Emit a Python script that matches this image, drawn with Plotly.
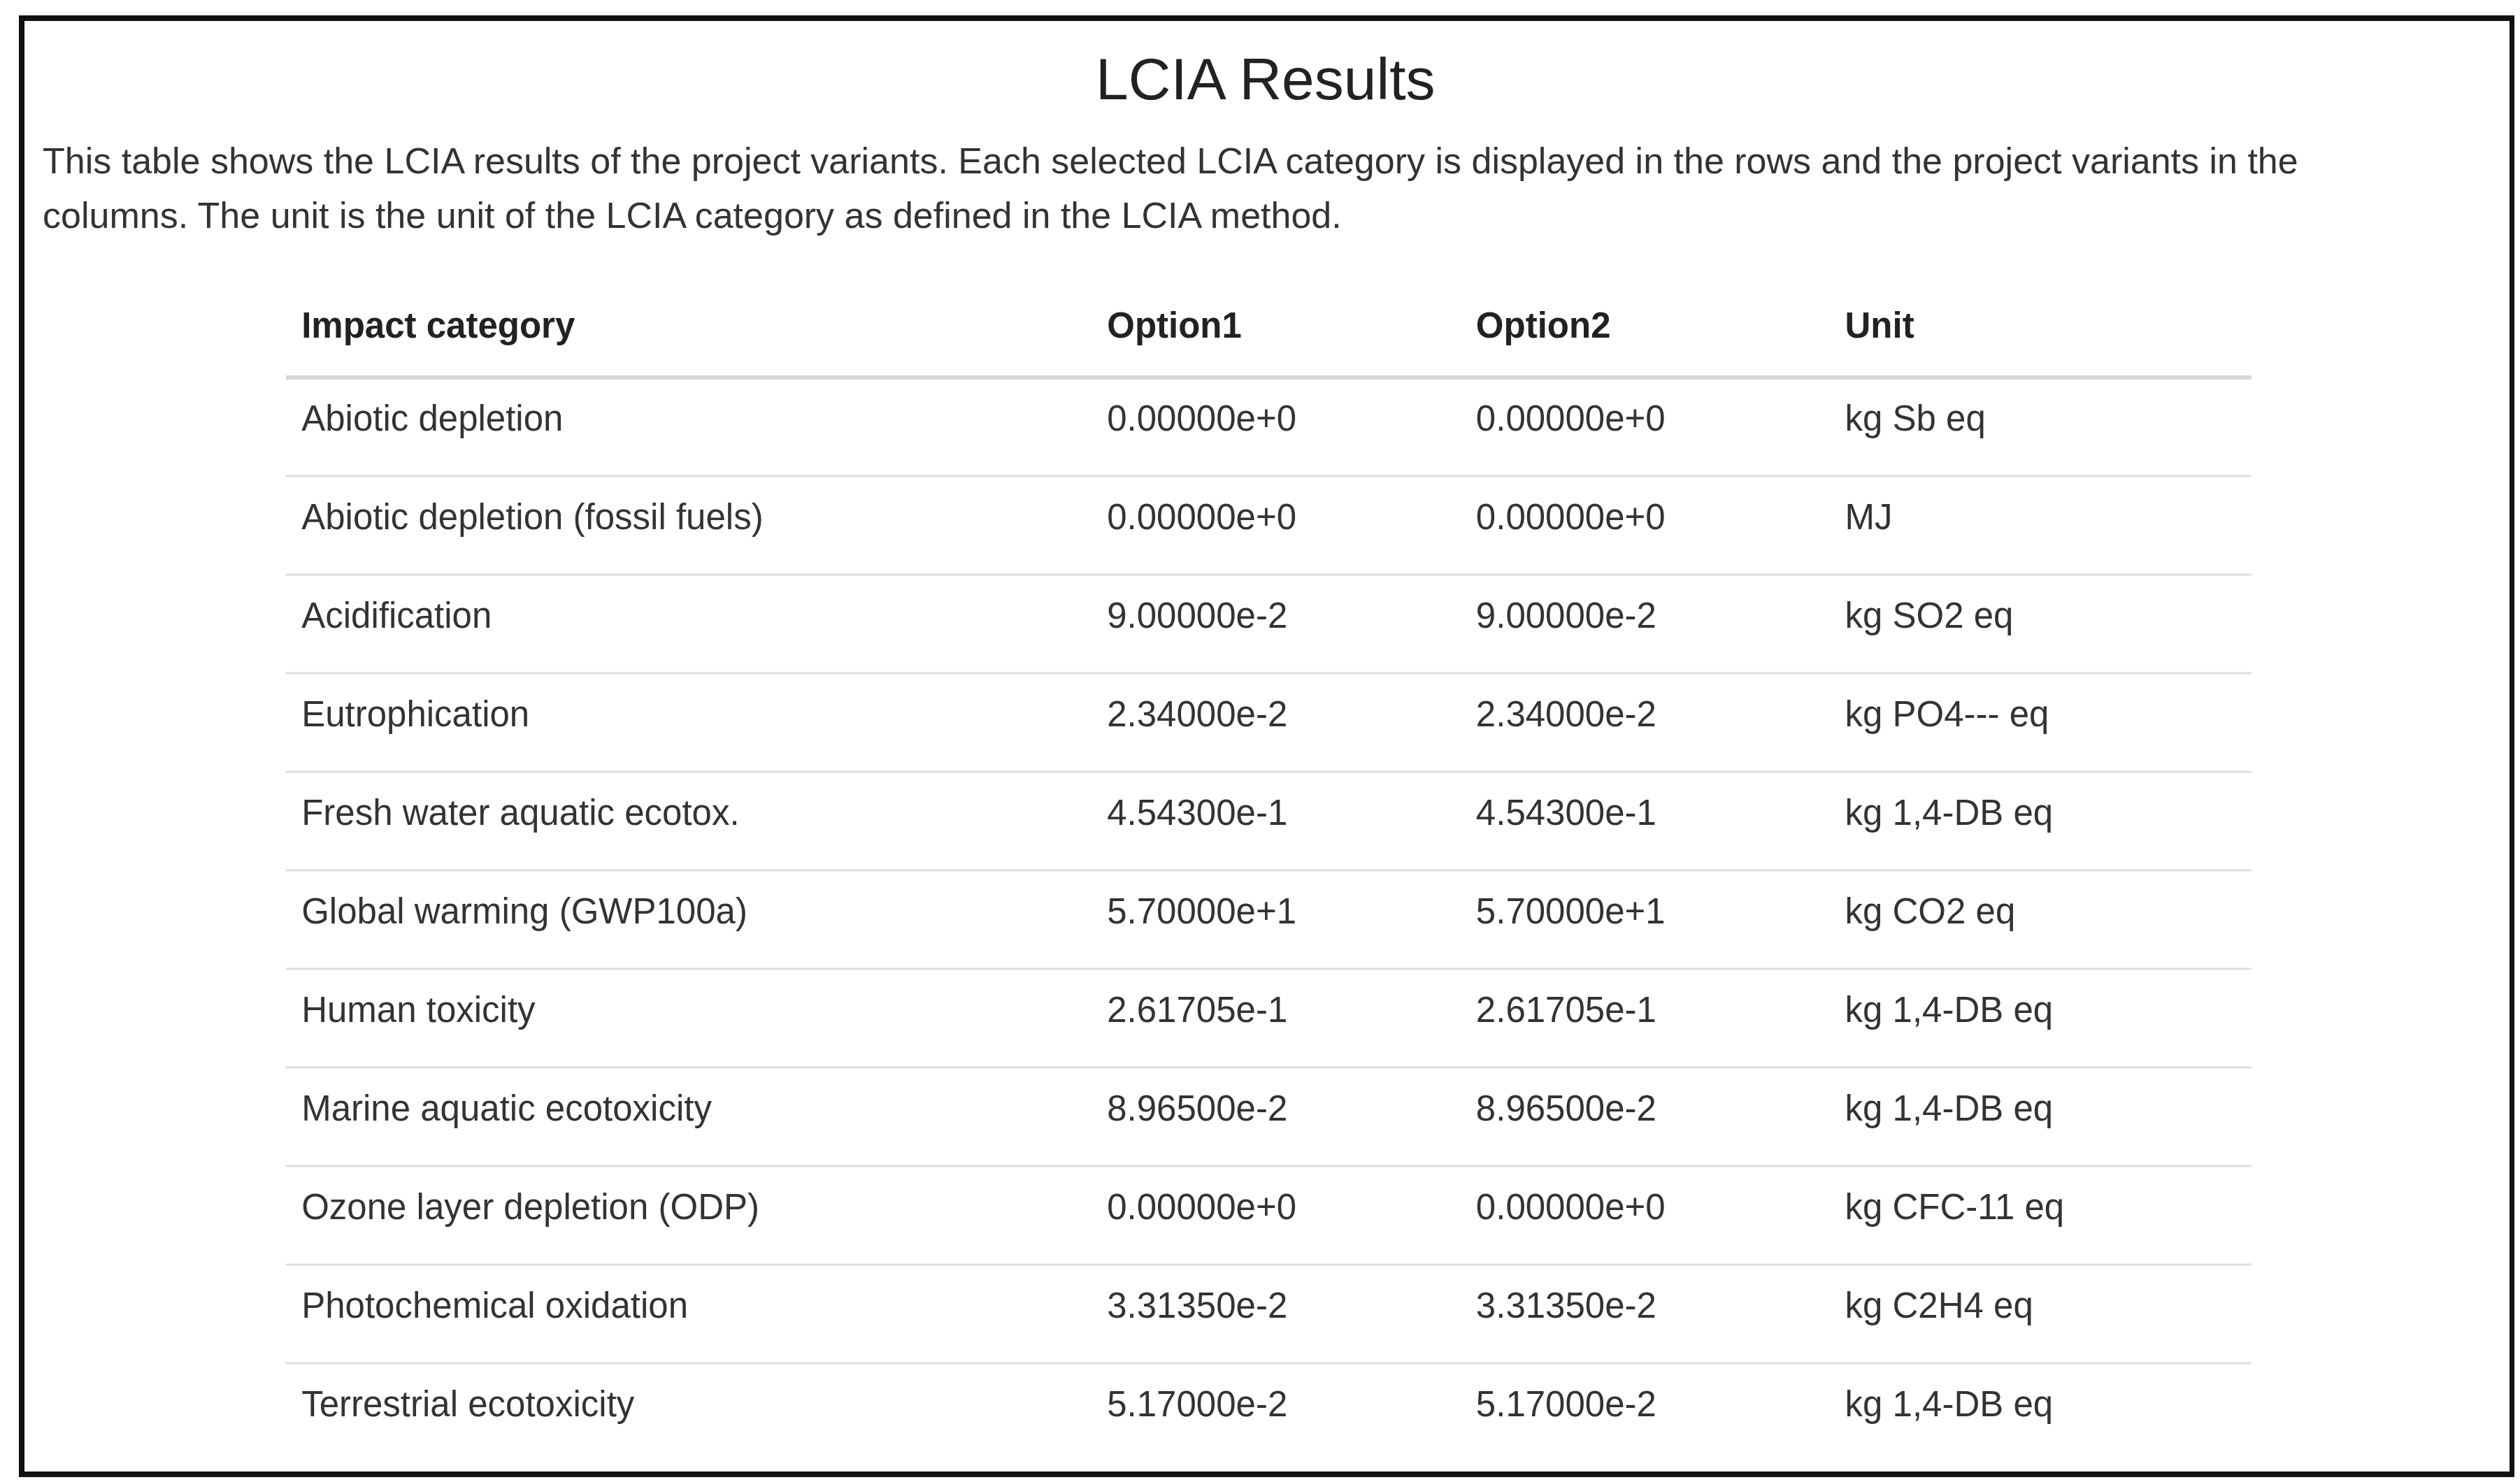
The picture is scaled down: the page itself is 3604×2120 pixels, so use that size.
import plotly.graph_objects as go

categories = ["Abiotic depletion", "Abiotic depletion (fossil fuels)", "Acidification", "Eutrophication",
              "Fresh water aquatic ecotox.", "Global warming (GWP100a)", "Human toxicity",
              "Marine aquatic ecotoxicity", "Ozone layer depletion (ODP)", "Photochemical oxidation",
              "Terrestrial ecotoxicity"]
option1 = ["0.00000e+0", "0.00000e+0", "9.00000e-2", "2.34000e-2", "4.54300e-1", "5.70000e+1",
           "2.61705e-1", "8.96500e-2", "0.00000e+0", "3.31350e-2", "5.17000e-2"]
option2 = list(option1)
units = ["kg Sb eq", "MJ", "kg SO2 eq", "kg PO4--- eq", "kg 1,4-DB eq", "kg CO2 eq", "kg 1,4-DB eq",
         "kg 1,4-DB eq", "kg CFC-11 eq", "kg C2H4 eq", "kg 1,4-DB eq"]
headers = ["Impact category", "Option1", "Option2", "Unit"]

W, H = 3604, 2120
tx0, tx1 = 401, 3212
ttop = 391
rowh = 141
shift = 30
pad = "\u00a0"
FONT = "Liberation Sans, Arial"

fig = go.Figure(go.Table(
    columnwidth=[500, 229, 229, 262],
    domain=dict(x=[tx0 / W, tx1 / W], y=[0, 1 - (ttop + shift) / H]),
    header=dict(values=[pad + "<b>%s</b>" % h for h in headers], height=rowh,
                fill_color="white", line=dict(color="white", width=0),
                font=dict(family=FONT, size=51, color="#222"), align="left"),
    cells=dict(values=[[pad + c for c in categories], [pad + v for v in option1],
                       [pad + v for v in option2], [pad + u for u in units]],
               height=rowh, fill_color="white", line=dict(color="white", width=0),
               font=dict(family=FONT, size=51, color="#333"), align="left"),
))

shapes = [dict(type="rect", xref="paper", yref="paper", x0=23 / W, x1=3585 / W, y0=1 - 2101 / H, y1=1 - 18 / H,
               line=dict(color="#111", width=8))]
for i in range(len(categories)):
    y = ttop + rowh * (i + 1)
    shapes.append(dict(type="line", xref="paper", yref="paper", x0=tx0 / W, x1=tx1 / W,
                       y0=1 - y / H, y1=1 - y / H,
                       line=dict(color="#ddd" if i else "#d6d6d6", width=6 if i == 0 else 3)))

fig.update_layout(
    width=W, height=H, margin=dict(l=0, r=0, t=0, b=0), paper_bgcolor="white", plot_bgcolor="white",
    shapes=shapes,
    annotations=[
        dict(text="LCIA Results", x=0.5, y=1 - 56 / H, xref="paper", yref="paper", showarrow=False,
             font=dict(family=FONT, size=84, color="#222")),
        dict(text="This table shows the LCIA results of the project variants. Each selected LCIA category is displayed in the rows and the project variants in the",
             x=51 / W, y=1 - 222 / H, xref="paper", yref="paper", xanchor="left", yanchor="middle",
             showarrow=False, font=dict(family=FONT, size=52, color="#333")),
        dict(text="columns. The unit is the unit of the LCIA category as defined in the LCIA method.",
             x=51 / W, y=1 - 300 / H, xref="paper", yref="paper", xanchor="left", yanchor="middle",
             showarrow=False, font=dict(family=FONT, size=52, color="#333")),
    ],
)
fig.write_html("out.html")
